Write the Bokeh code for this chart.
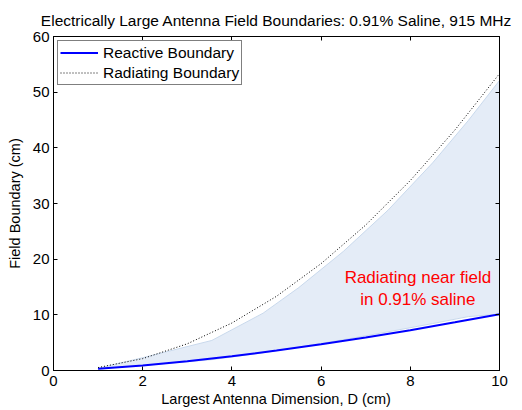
from bokeh.plotting import figure
from bokeh.models import LinearAxis, Range1d, FixedTicker, Legend, LegendItem, Title
from bokeh.core.properties import value
from bokeh.embed import file_html
from bokeh.resources import INLINE

# Largest antenna dimension D (cm)
d_cm = [1, 2, 3, 4, 5, 6, 7, 8, 9, 10]
# Reactive near-field boundary (cm)
reactive_cm = [0.32, 0.91, 1.66, 2.56, 3.58, 4.71, 5.93, 7.24, 8.65, 10.12]
# Radiating (far-field) boundary (cm)
radiating_cm = [0.53, 2.13, 4.80, 8.53, 13.33, 19.20, 26.13, 34.13, 43.20, 53.33]

# Shaded radiating near-field region (upper edge sampled more coarsely)
shade_d = [1, 2, 3.55, 4.7, 5.5, 6.5, 7.5, 8.5, 9.3, 10]
shade_top = [0.4, 2.3, 5.4, 10.3, 14.9, 21.4, 28.8, 37.3, 44.9, 52.1]
shade_bottom = [0.32, 0.91, 1.95, 3.18, 4.20, 5.53, 6.95, 8.43, 9.68, 10.12]

x_ticks = [0, 2, 4, 6, 8, 10]
y_ticks = [0, 10, 20, 30, 40, 50, 60]

FONT = "Liberation Sans"

p = figure(width=522, height=410, output_backend="svg", toolbar_location=None,
           x_range=Range1d(0, 10), y_range=Range1d(0, 60),
           min_border_left=53, min_border_right=23, min_border_top=36,
           min_border_bottom=40, x_axis_location=None, y_axis_location=None)
p.background_fill_color = "white"
p.border_fill_color = "white"
p.grid.visible = False
p.outline_line_color = "black"
p.outline_line_width = 1

# shaded region between the two boundaries
p.patch(shade_d + shade_d[::-1], shade_top + shade_bottom[::-1],
        fill_color="#e4ecf7", line_color="#c9d9ec", line_width=1)

r_react = p.line(d_cm, reactive_cm, line_color="#0000ff", line_width=2)
r_rad = p.line(d_cm, radiating_cm, line_color="black", line_width=1,
               line_dash="1 2")

p.text(x=[8.17], y=[16.7], text=["Radiating near field"], text_color="#ff0000",
       text_font=value(FONT), text_font_size="17px", text_align="center",
       text_baseline="middle")
p.text(x=[8.17], y=[12.7], text=["in 0.91% saline"], text_color="#ff0000",
       text_font=value(FONT), text_font_size="17px", text_align="center",
       text_baseline="middle")


def style_axis(ax, show_labels=True):
    ax.axis_line_color = "black"
    ax.major_tick_line_color = "black"
    ax.major_tick_in = 4
    ax.major_tick_out = 0
    ax.minor_tick_line_color = None
    ax.major_label_text_font = FONT
    ax.major_label_text_font_size = "15px" if show_labels else "0px"
    ax.major_label_text_color = "black"
    ax.axis_label_text_font = FONT
    ax.axis_label_text_font_size = "14.5px"
    ax.axis_label_text_font_style = "normal"
    ax.axis_label_text_color = "black"


xb = LinearAxis(ticker=FixedTicker(ticks=x_ticks),
                axis_label="Largest Antenna Dimension, D (cm)")
style_axis(xb)
xb.major_label_standoff = 5
xb.axis_label_standoff = 2
p.add_layout(xb, "below")

yl = LinearAxis(ticker=FixedTicker(ticks=y_ticks), axis_label="Field Boundary (cm)")
style_axis(yl)
yl.major_label_standoff = 4
yl.axis_label_standoff = 7
p.add_layout(yl, "left")

xt = LinearAxis(ticker=FixedTicker(ticks=x_ticks))
style_axis(xt, show_labels=False)
xt.major_label_standoff = 0
p.add_layout(xt, "above")

yr = LinearAxis(ticker=FixedTicker(ticks=y_ticks))
style_axis(yr, show_labels=False)
yr.major_label_standoff = 0
p.add_layout(yr, "right")

p.title = Title(text="Electrically Large Antenna Field Boundaries: 0.91% Saline, 915 MHz",
                text_font=FONT, text_font_size="15.5px", text_font_style="normal",
                text_color="black", align="center", standoff=16)

legend = Legend(items=[LegendItem(label="Reactive Boundary", renderers=[r_react]),
                       LegendItem(label="Radiating Boundary", renderers=[r_rad])],
                location="top_left")
legend.label_text_font = FONT
legend.label_text_font_size = "15.5px"
legend.label_text_color = "black"
legend.border_line_color = "black"
legend.border_line_width = 1
legend.background_fill_color = "white"
legend.background_fill_alpha = 1
legend.margin = 4
legend.padding = 2
legend.spacing = 1
legend.label_height = 19
legend.glyph_height = 19
legend.glyph_width = 38
legend.label_standoff = 5
p.add_layout(legend, "center")

open("out.html", "w").write(file_html(p, INLINE))
